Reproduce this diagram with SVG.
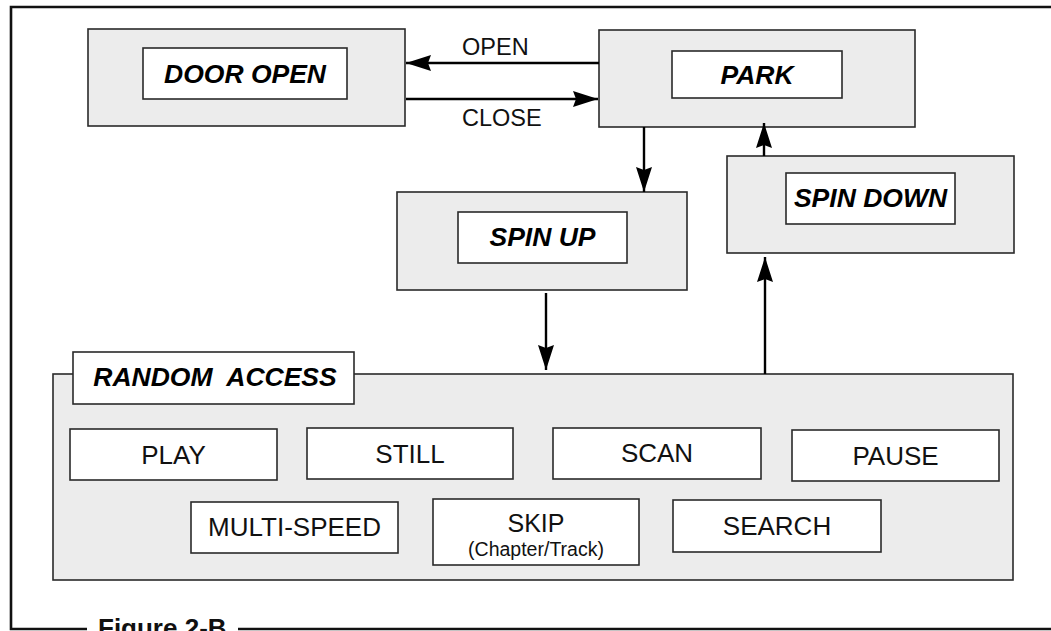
<svg xmlns="http://www.w3.org/2000/svg" width="1051" height="631" viewBox="0 0 1051 631">
<style>
.outer{fill:#ececec;stroke:#2a2a2a;stroke-width:1.6}
.inner{fill:#ffffff;stroke:#2a2a2a;stroke-width:1.6}
.bi{font-family:"Liberation Sans",Arial,sans-serif;font-weight:bold;font-style:italic;font-size:26.5px;fill:#000;text-anchor:middle}
.reg{font-family:"Liberation Sans",Arial,sans-serif;font-size:26px;fill:#111;text-anchor:middle}
.lbl{font-family:"Liberation Sans",Arial,sans-serif;font-size:23.5px;fill:#111}
.small{font-family:"Liberation Sans",Arial,sans-serif;font-size:19.5px;fill:#111;text-anchor:middle}
.cap{font-family:"Liberation Sans",Arial,sans-serif;font-weight:bold;font-size:26px;fill:#111}
.conn{stroke:#000;stroke-width:2.4;fill:none;marker-end:url(#ah)}
</style>
<defs>
<marker id="ah" markerUnits="userSpaceOnUse" markerWidth="27" markerHeight="17" refX="25" refY="8" orient="auto">
<path d="M0,0 L25,8 L0,16 L3,8 z" fill="#000"/>
</marker>
</defs>
<rect width="1051" height="631" fill="#fff"/>
<g id="frame" fill="none" stroke="#111" stroke-width="2.6">
<path d="M1051,7 H11 V629 H87"/>
<path d="M238,629 H1051"/>
</g>
<text class="cap" x="98" y="637">Figure 2-B</text>

<g id="door-open">
<rect class="outer" x="88" y="29" width="317" height="97"/>
<rect class="inner" x="143" y="48" width="204" height="51"/>
<text class="bi" x="245" y="82.5">DOOR OPEN</text>
</g>
<g id="park">
<rect class="outer" x="599" y="30" width="316" height="97"/>
<rect class="inner" x="672" y="51" width="170" height="47"/>
<text class="bi" x="757" y="83.5">PARK</text>
</g>
<g id="spin-up">
<rect class="outer" x="397" y="192" width="290" height="98"/>
<rect class="inner" x="458" y="212" width="169" height="51"/>
<text class="bi" x="542.5" y="246">SPIN UP</text>
</g>
<g id="spin-down">
<rect class="outer" x="727" y="156" width="287" height="97"/>
<rect class="inner" x="786" y="173" width="169" height="51"/>
<text class="bi" x="870.5" y="207">SPIN DOWN</text>
</g>
<g id="random-access">
<rect class="outer" x="53" y="374" width="960" height="206"/>
<rect class="inner" x="73" y="352" width="281" height="52"/>
<text class="bi" x="215" y="386" style="white-space:pre">RANDOM  ACCESS</text>
</g>
<g id="play"><rect class="inner" x="70" y="429" width="207" height="51"/><text class="reg" x="173.5" y="463.5">PLAY</text></g>
<g id="still"><rect class="inner" x="307" y="428" width="206" height="51"/><text class="reg" x="410" y="462.5">STILL</text></g>
<g id="scan"><rect class="inner" x="553" y="428" width="208" height="51"/><text class="reg" x="657" y="462">SCAN</text></g>
<g id="pause"><rect class="inner" x="792" y="430" width="207" height="51"/><text class="reg" x="895.5" y="464.5">PAUSE</text></g>
<g id="multi-speed"><rect class="inner" x="191" y="502" width="207" height="51"/><text class="reg" x="294.5" y="536">MULTI-SPEED</text></g>
<g id="skip"><rect class="inner" x="433" y="499" width="206" height="66"/><text class="reg" x="536" y="531.5" style="font-size:25px">SKIP</text><text class="small" x="536" y="556">(Chapter/Track)</text></g>
<g id="search"><rect class="inner" x="673" y="500" width="208" height="52"/><text class="reg" x="777" y="535">SEARCH</text></g>

<g id="connectors">
<line class="conn" x1="599" y1="63" x2="406" y2="63"/>
<line class="conn" x1="406" y1="99" x2="598" y2="99"/>
<line class="conn" x1="644" y1="127" x2="644" y2="192"/>
<line class="conn" x1="764" y1="156" x2="764" y2="123"/>
<line class="conn" x1="765" y1="374" x2="765" y2="257"/>
<line class="conn" x1="546" y1="293" x2="546" y2="370"/>
<text class="lbl" x="462" y="55">OPEN</text>
<text class="lbl" x="462" y="126">CLOSE</text>
</g>
</svg>
